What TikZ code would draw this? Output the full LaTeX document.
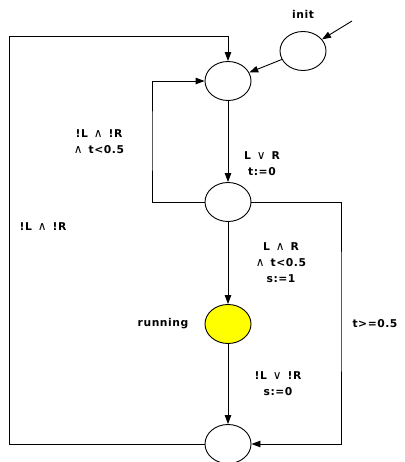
\documentclass[tikz,border=0pt]{standalone}
\usepackage{fontspec}
\newfontfamily\lab[LetterSpace=5]{DejaVu Sans Bold}
\newfontfamily\opf{DejaVu Sans}
\newcommand{\myand}{\hspace{6bp}{\opf\fontsize{12}{16}\selectfont ∧}\hspace{6bp}}
\newcommand{\myor}{\hspace{6bp}{\opf\fontsize{12}{16}\selectfont ∨}\hspace{6bp}}
\usetikzlibrary{shapes.geometric,arrows.meta}
\begin{document}
\begin{tikzpicture}[x=1bp,y=-1bp,
  loc/.style={draw,ellipse,line width=0.9bp,minimum width=46bp,minimum height=39bp,inner sep=0pt,fill=white},
  arr/.style={draw,line width=0.9bp,-{Triangle[length=9bp,width=6.5bp]}},
  lbl/.style={font=\lab\fontsize{10.8}{16}\selectfont,align=center,inner sep=0pt}]
\useasboundingbox (0,0) rectangle (404,462);
\node[loc] (init) at (303,51) {};
\node[loc] (A) at (228,81) {};
\node[loc] (B) at (228,202) {};
\node[loc,fill={rgb,255:red,255;green,255;blue,0}] (run) at (228,324) {};
\node[loc] (bot) at (228,444) {};
\coordinate (start) at (352,21);
\coordinate (lt) at (9,36);
\coordinate (l2) at (152,140);
\coordinate (r) at (341,300);
\draw[arr] (start) -- (init);
\draw[arr] (init) -- (A);
\draw[arr] (bot.west) -| (lt) -| (A.north);
\draw[arr] (A) -- (B);
\draw[arr] (B.west) -| (l2) |- (A.west);
\draw[arr] (B) -- (run);
\draw[arr] (B.east) -| (r) |- (bot.east);
\draw[arr] (run) -- (bot);
\node[lbl] (linit) at (303,14) {init};
\node[lbl] (lrun) at (163,324) {running};
\node[lbl] (lab1) at (262,164) {L\myor R\\t:=0};
\node[lbl] (lab2) at (99,142) {!L\myand!R\\{\opf\fontsize{12}{16}\selectfont ∧}\hspace{6bp}t<0.5};
\node[lbl] (lab3) at (281,263) {L\myand R\\{\opf\fontsize{12}{16}\selectfont ∧}\hspace{6bp}t<0.5\\s:=1};
\node[lbl] (lab4) at (278,384) {!L\myor!R\\s:=0};
\node[lbl] (lab5) at (375,324) {t>=0.5};
\node[lbl] (lab6) at (43,227) {!L\myand!R};
\end{tikzpicture}
\end{document}
